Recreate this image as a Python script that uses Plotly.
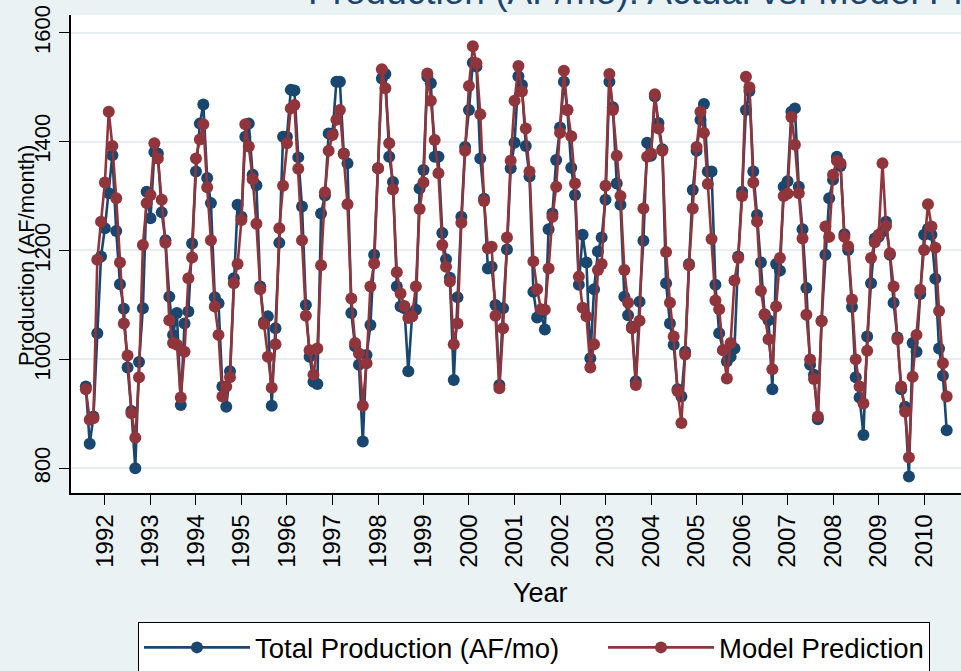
import pandas as pd
import plotly.graph_objects as go

# Monthly observations, Aug 1991 .. Jul 2010
months = pd.date_range("1991-08-01", periods=228, freq="MS")

total_production = [
    950, 845, 895, 1048, 1189, 1241, 1305, 1375, 1236, 1138, 1093, 985,
    905, 800, 995, 1094, 1308, 1259, 1381, 1378, 1270, 1219, 1115, 1045,
    1085, 916, 1066, 1088, 1213, 1345, 1433, 1468, 1333, 1287, 1114, 1103,
    950, 913, 978, 1149, 1284, 1262, 1409, 1433, 1339, 1320, 1134, 1068,
    1079, 915, 1057, 1214, 1409, 1409, 1495, 1494, 1371, 1281, 1100, 1005,
    959, 955, 1268, 1301, 1415, 1415, 1510, 1510, 1378, 1360, 1085, 1024,
    990, 849, 1008, 1063, 1192, 1351, 1516, 1524, 1372, 1326, 1134, 1097,
    1094, 978, 1079, 1091, 1314, 1348, 1519, 1507, 1372, 1372, 1232, 1184,
    1150, 962, 1114, 1262, 1390, 1458, 1545, 1538, 1369, 1295, 1167, 1170,
    1100, 953, 1094, 1202, 1351, 1398, 1520, 1504, 1392, 1336, 1124, 1077,
    1085, 1055, 1239, 1268, 1366, 1426, 1510, 1458, 1352, 1302, 1137, 1229,
    1178, 1002, 1129, 1198, 1224, 1293, 1510, 1463, 1323, 1284, 1115, 1081,
    1060, 960, 1106, 1218, 1398, 1374, 1483, 1434, 1386, 1140, 1066, 1027,
    945, 932, 1014, 1175, 1311, 1383, 1440, 1469, 1345, 1345, 1137, 1048,
    1017, 996, 1005, 1020, 1189, 1308, 1458, 1493, 1345, 1265, 1178, 1083,
    1072, 945, 1175, 1163, 1317, 1327, 1455, 1461, 1317, 1239, 1131, 990,
    972, 890, 1071, 1192, 1296, 1330, 1372, 1355, 1230, 1201, 1096, 967,
    930, 861, 1042, 1140, 1222, 1225, 1235, 1253, 1192, 1104, 1040, 945,
    913, 785, 1030, 1014, 1120, 1229, 1240, 1229, 1148, 1020, 970, 870,
]

model_prediction = [
    945, 889, 892, 1183, 1253, 1325, 1455, 1392, 1296, 1178, 1066, 1007,
    901, 856, 967, 1210, 1287, 1302, 1397, 1369, 1293, 1214, 1072, 1030,
    1027, 930, 1014, 1149, 1187, 1369, 1404, 1432, 1316, 1219, 1097, 1045,
    932, 950, 967, 1140, 1175, 1256, 1432, 1391, 1331, 1249, 1129, 1065,
    1005, 948, 1028, 1241, 1319, 1397, 1461, 1467, 1350, 1219, 1080, 1017,
    972, 1020, 1173, 1307, 1383, 1412, 1440, 1458, 1377, 1285, 1112, 1030,
    1011, 915, 993, 1134, 1176, 1351, 1533, 1498, 1397, 1312, 1160, 1121,
    1098, 1076, 1079, 1134, 1276, 1325, 1525, 1475, 1403, 1342, 1210, 1170,
    1143, 1028, 1066, 1251, 1383, 1502, 1575, 1544, 1450, 1291, 1204, 1207,
    1080, 947, 1057, 1224, 1365, 1475, 1539, 1492, 1424, 1345, 1180, 1129,
    1092, 1091, 1167, 1262, 1317, 1416, 1530, 1458, 1410, 1323, 1152, 1095,
    1079, 985, 1028, 1164, 1175, 1319, 1524, 1458, 1374, 1300, 1164, 1104,
    1057, 953, 1071, 1277, 1372, 1378, 1487, 1424, 1383, 1197, 1104, 1042,
    942, 883, 1009, 1173, 1277, 1390, 1455, 1416, 1322, 1221, 1108, 1092,
    1017, 965, 1030, 1145, 1186, 1300, 1519, 1500, 1325, 1253, 1126, 1082,
    1037, 982, 1097, 1186, 1300, 1304, 1445, 1394, 1305, 1222, 1082, 1000,
    964, 895, 1070, 1244, 1225, 1339, 1365, 1360, 1225, 1208, 1110, 1000,
    950, 919, 1016, 1186, 1215, 1229, 1360, 1245, 1195, 1134, 1037, 950,
    904, 820, 968, 1045, 1128, 1201, 1285, 1244, 1205, 1089, 993, 932,
]

year_ticks = [f"{y}-01-01" for y in range(1992, 2011)]
year_labels = [str(y) for y in range(1992, 2011)]
y_ticks = [800, 1000, 1200, 1400, 1600]

NAVY = "#1a476f"
MAROON = "#90353b"
BG = "#eaf2f3"
FONT = "Liberation Sans, Arial, sans-serif"

fig = go.Figure()
fig.add_trace(go.Scatter(
    x=months, y=total_production, name="Total Production (AF/mo)",
    mode="lines+markers", legendwidth=343,
    line=dict(color=NAVY, width=2.6),
    marker=dict(color=NAVY, size=12, line=dict(width=0)),
))
fig.add_trace(go.Scatter(
    x=months, y=model_prediction, name="Model Prediction",
    mode="lines+markers",
    line=dict(color=MAROON, width=2.6),
    marker=dict(color=MAROON, size=12, line=dict(width=0)),
))

fig.update_layout(
    width=961, height=671,
    margin=dict(l=71, r=0, t=15, b=178, autoexpand=False),
    paper_bgcolor=BG, plot_bgcolor="white",
    font=dict(family=FONT, color="black"),
    showlegend=True,
    legend=dict(
        orientation="h", x=(138 - 71) / 890, xanchor="left",
        y=(493 - 622) / 478, yanchor="top",
        bgcolor="white", bordercolor="black", borderwidth=1,
        font=dict(size=27.5, family=FONT, color="black"),
        itemwidth=106,
    ),
    xaxis=dict(
        type="date", range=["1991-04-04", "2010-10-24"], automargin=False,
        tickvals=year_ticks, ticktext=year_labels, tickangle=-90,
        tickfont=dict(size=24), ticks="outside", ticklen=10, tickcolor="black",
        showline=True, linecolor="black", linewidth=1.5,
        showgrid=False, zeroline=False,
    ),
    yaxis=dict(
        range=[754.6, 1632.5], tickvals=y_ticks, tickangle=-90, automargin=False,
        tickfont=dict(size=22), ticks="outside", ticklen=10, tickcolor="black",
        showline=True, linecolor="black", linewidth=1.5,
        showgrid=True, gridcolor="#e6eef0", gridwidth=2, zeroline=False,
    ),
    annotations=[
        dict(text="Production (AF/mo): Actual vs. Model Prediction",
             xref="paper", yref="paper", x=(306 - 71) / 890, y=1 + 1 / 478,
             xanchor="left", yanchor="bottom", showarrow=False,
             font=dict(size=37, color=NAVY, family=FONT)),
        dict(text="Year", xref="paper", yref="paper",
             x=(540 - 71) / 890, y=(493 - 593) / 478,
             xanchor="center", yanchor="middle", showarrow=False,
             font=dict(size=27, color="black", family=FONT)),
        dict(text="Production (AF/month)", xref="paper", yref="paper",
             x=(27 - 71) / 890, y=(493 - 256) / 478, textangle=-90,
             xanchor="center", yanchor="middle", showarrow=False,
             font=dict(size=22, color="black", family=FONT)),
    ],
)

fig.write_html("out.html", config={"displayModeBar": False},
               post_script="document.body.style.margin='0px';")
